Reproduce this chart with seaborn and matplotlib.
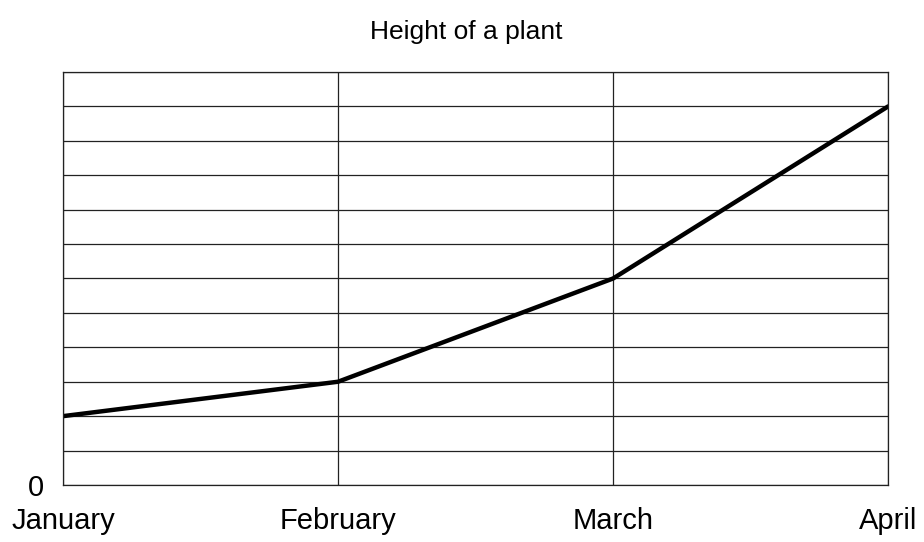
import matplotlib
matplotlib.use("Agg")
import matplotlib.pyplot as plt
import pandas as pd
import seaborn as sns

# Data
months = ["January", "February", "March", "April"]
height = [2, 3, 6, 11]
y_max = 12

sns.set_theme(style="white")
plt.rcParams['font.family'] = ['Liberation Sans', 'DejaVu Sans']

df = pd.DataFrame({"month": months, "height": height})

fig = plt.figure(figsize=(9.24, 5.42), dpi=100)
ax = fig.add_axes([0.0682, 0.1052, 0.893, 0.762])

sns.lineplot(data=df, x="month", y="height", sort=False, color="black",
             linewidth=3.2, ax=ax)

ax.set_xlim(0, len(months) - 1)
ax.set_ylim(0, y_max)

ax.set_yticks(range(0, y_max + 1))
ax.set_yticklabels(["0"] + [""] * y_max)
ax.set_xticks(range(len(months)))
ax.set_xticklabels(months)

ax.grid(True, color="#222222", linewidth=0.9)
ax.set_axisbelow(True)
for s in ax.spines.values():
    s.set_color("#222222")
    s.set_linewidth(0.9)

ax.tick_params(axis="x", length=0, pad=16, labelsize=21, colors="black")
ax.tick_params(axis="y", length=0, pad=14, labelsize=21, colors="black")

ax.set_xlabel("")
ax.set_ylabel("")
ax.set_title("Height of a plant", fontsize=19, pad=24, color="black", x=0.489)

fig.savefig("out.png", dpi=100)
